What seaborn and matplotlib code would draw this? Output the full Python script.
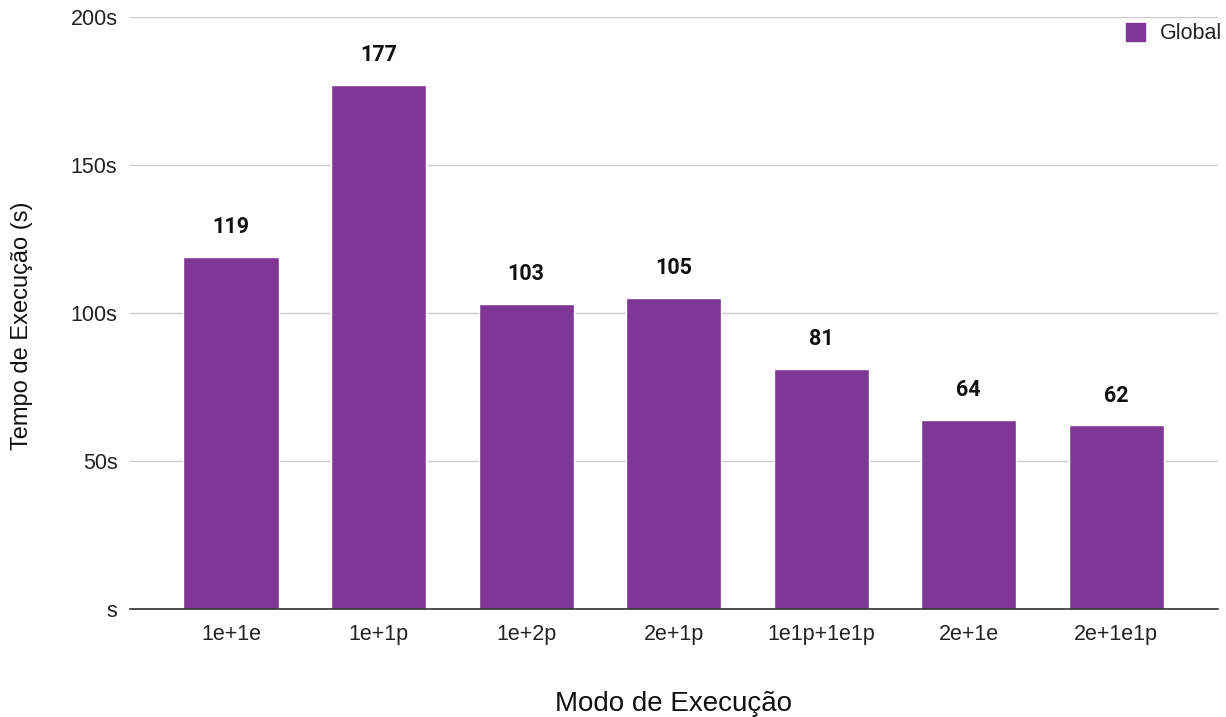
import matplotlib
matplotlib.use("Agg")
import matplotlib.pyplot as plt
import seaborn as sns
import pandas as pd

# Execution modes and their global execution times (seconds)
modes = ["1e+1e", "1e+1p", "1e+2p", "2e+1p", "1e1p+1e1p", "2e+1e", "2e+1e1p"]
times = [119, 177, 103, 105, 81, 64, 62]
y_ticks = [0, 50, 100, 150, 200]
y_tick_labels = ["s", "50s", "100s", "150s", "200s"]
series_name = "Global"

df = pd.DataFrame({"Modo": modes, "Tempo": times, "Serie": series_name})

sns.set_theme(style="white")
plt.rcParams["font.family"] = ["Liberation Sans", "DejaVu Sans"]

fig = plt.figure(figsize=(12.26, 7.17), dpi=100)
ax = fig.add_axes([0.106, 0.1506, 0.8875, 0.8257])

bar_color = "#7e3794"
sns.barplot(data=df, x="Modo", y="Tempo", hue="Serie", palette=[bar_color],
            width=0.645, ax=ax, saturation=1, legend=True)

ax.set_ylim(0, 200)
ax.set_xlim(-0.685, 6.69)
ax.set_yticks(y_ticks)
ax.set_yticklabels(y_tick_labels)
ax.yaxis.grid(True, color="#cccccc", linewidth=1)
ax.set_axisbelow(True)
for side in ["top", "right", "left"]:
    ax.spines[side].set_visible(False)
ax.spines["bottom"].set_color("#333333")
ax.spines["bottom"].set_linewidth(1.2)
ax.tick_params(axis="both", length=0, labelsize=15.5, colors="#222222")
ax.tick_params(axis="x", pad=11)
ax.tick_params(axis="y", pad=9)

ax.set_xlabel("Modo de Execução", fontsize=20, color="#111111", labelpad=33)
ax.set_ylabel("Tempo de Execução (s)", fontsize=17, color="#111111")
ax.yaxis.set_label_coords(-0.089, 0.478)

# Value labels above each bar
for i, v in enumerate(times):
    ax.annotate(f"{v}", (i, v), xytext=(0, 13.5), textcoords="offset points",
                ha="center", va="bottom", fontsize=15.5, fontweight="bold",
                color="#111111", family=["Roboto", "DejaVu Sans"])

leg = ax.legend(loc="upper right", bbox_to_anchor=(1.022, 1.023), frameon=False,
                fontsize=15.5, handlelength=0.9, handleheight=0.9, handletextpad=0.7)
for h in leg.legend_handles:
    h.set_edgecolor(bar_color)
for t in leg.get_texts():
    t.set_color("#222222")

fig.savefig("out.png", dpi=100, facecolor="white")
